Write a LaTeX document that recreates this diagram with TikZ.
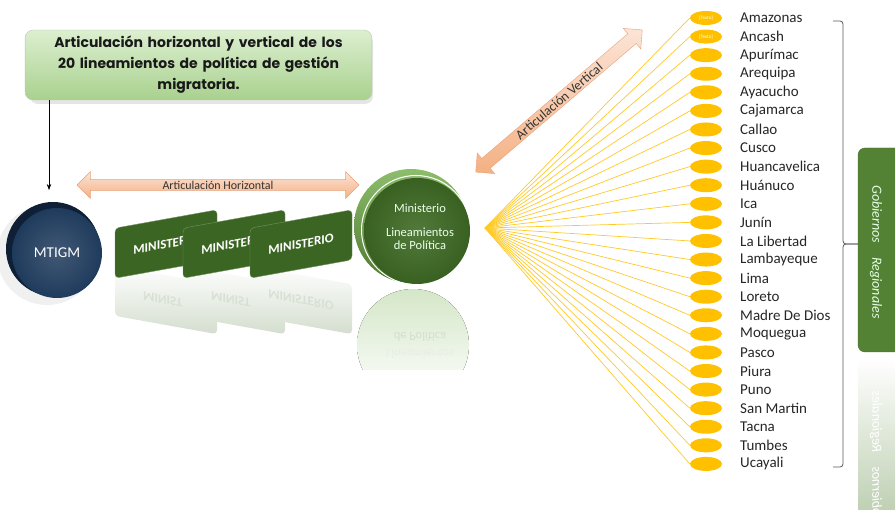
\documentclass[tikz,border=0pt]{standalone}
\usepackage{fontspec}
\setmainfont{Carlito}
\newfontfamily\titlefont{Poppins}
\usetikzlibrary{shapes.arrows,shapes.geometric,arrows.meta}
\definecolor{fanY}{HTML}{FFC000}
\definecolor{minG}{HTML}{3B6522}
\definecolor{diskG}{HTML}{3F6B25}
\definecolor{rimG}{HTML}{70AD47}
\definecolor{blueF}{HTML}{1F3B5C}
\definecolor{blueB}{HTML}{0F1F36}
\definecolor{gobG}{HTML}{548235}
\definecolor{arrTop}{HTML}{FCE4D6}
\definecolor{arrBot}{HTML}{F4B183}
\definecolor{arrLine}{HTML}{E8A07A}
\definecolor{titTop}{HTML}{DCEFD0}
\definecolor{titBot}{HTML}{A9D18E}
\begin{document}
\begin{tikzpicture}[x=1pt,y=-1pt]
\tikzset{
 oval/.style={ellipse, fill=fanY, minimum width=32, minimum height=14, inner sep=0},
 place/.style={anchor=west, font=\fontsize{15}{15}\selectfont, text=black!85, inner sep=0},
 fanline/.style={draw=fanY!85, line width=0.7pt},
 minbox/.style={rectangle, rounded corners=4, fill=minG, draw=minG!70!white, minimum width=102, minimum height=50, text=white, font=\fontsize{13}{13}\selectfont\bfseries, yslant=0.18},
 minrefl/.style={rectangle, rounded corners=4, top color=white, bottom color=minG!22, minimum width=102, minimum height=50, text=minG!20, font=\fontsize{13}{13}\selectfont\bfseries, yslant=0.18},
 darrow/.style={double arrow, double arrow head extend=8, top color=arrTop, bottom color=arrBot, draw=arrLine, inner xsep=2, inner ysep=1, text=black!80, font=\fontsize{12}{12}\selectfont},
 bracketline/.style={draw=black!65, line width=0.8pt, rounded corners=3},
 disktext/.style={text=green!8!white, font=\fontsize{12.5}{12.5}\selectfont},
 gobtext/.style={font=\fontsize{14}{14}\selectfont\itshape},
}
\useasboundingbox (0,0) rectangle (895,510);

% title box
\fill[black!10, rounded corners=8] (30,34) rectangle (373,104);
\node[rectangle, rounded corners=8, top color=titTop, bottom color=titBot, draw=titBot!80!black!60,
  minimum width=343, minimum height=70, text width=340, align=center,
  font=\titlefont\bfseries\fontsize{14}{21}\selectfont, text=black!90] (title) at (198.5,65)
  {Articulación horizontal y vertical de los\\20 lineamientos de política de gestión\\migratoria.};

% MTIGM disk
\fill[black!6] (47,255) circle (50);
\node[circle, fill=blueB, minimum size=94, inner sep=0] (mtigmback) at (53,249) {};
\node[circle, inner sep=0, minimum size=90, inner color=blueF!85!white, outer color=blueF, text=white,
  font=\fontsize{15}{15}\selectfont] (mtigm) at (57,253) {MTIGM};
\coordinate (arrEnd) at (49,190);
\draw[-{Stealth[length=6pt]}, line width=0.6pt] (title.south -| arrEnd) -- (arrEnd);

% horizontal arrow
\node[darrow, minimum height=282] (harr) at (218,185) {Articulación Horizontal};

% ministerio reflections
\begin{scope}[shift={(0,544)}, yscale=-1, transform shape]
\node[minrefl] (r1) at (166,244) {MINISTE};
\node[minrefl] (r2) at (234,244) {MINISTE};
\node[minrefl] (r3) at (301,244) {MINISTERIO};
\end{scope}

% ministerio boxes
\node[minbox] (m1) at (166,244) {MINISTERIO};
\node[minbox] (m2) at (234,244) {MINISTERIO};
\node[minbox] (m3) at (301,244) {MINISTERIO};

% ministerio disk reflection
\begin{scope}
\clip (340,290) rectangle (480,370);
\fill[top color=rimG!30, bottom color=white] (413,345) circle (56);
\end{scope}
\begin{scope}[shift={(0,584)}, yscale=-1, transform shape]
\node[text=diskG!22, font=\fontsize{12.5}{12.5}\selectfont] (rd1) at (420,247) {de Política};
\node[text=diskG!12, font=\fontsize{12.5}{12.5}\selectfont] (rd2) at (420,230) {Lineamientos};
\end{scope}

% ministerio disk
\node[circle, minimum size=114, inner sep=0, top color=rimG!80!white, bottom color=rimG!70!black] (diskback) at (411,226) {};
\draw[white, line width=1pt] (416,230) circle (54.5);
\node[circle, minimum size=106, inner sep=0, inner color=diskG!90!white, outer color=diskG!90!black] (disk) at (417,231) {};
\node[disktext] (dt1) at (420,208) {Ministerio};
\node[disktext, align=center, inner sep=0] (dt2) at (420,238.5) {Lineamientos\\[1pt]de Política};

% vertical arrow
\node[darrow, rotate=40.5, minimum height=219, double arrow head extend=7, inner ysep=1.5,
  font=\fontsize{13.5}{13.5}\selectfont] (varr) at (559,101) {Articulación Vertical};

% fan and list
\coordinate (apex) at (485,228);
\foreach \n [count=\i from 0] in {Amazonas,Ancash,Apurímac,Arequipa,Ayacucho,Cajamarca,Callao,Cusco,Huancavelica,Huánuco,Ica,Junín,La Libertad,Lambayeque,Lima,Loreto,Madre De Dios,Moquegua,Pasco,Piura,Puno,San Martin,Tacna,Tumbes,Ucayali}{
  \pgfmathsetmacro\yy{18+18.58*\i}
  \node[oval] (e\i) at (706,\yy) {};
  \draw[fanline] (apex) -- (e\i.west);
  \node[place] (n\i) at (740,\yy) {\n};
}
\node[text=white, font=\fontsize{5}{5}\selectfont, inner sep=0] (t0) at (e0) {[Texto]};
\node[text=white, font=\fontsize{5}{5}\selectfont, inner sep=0] (t1) at (e1) {[Texto]};

% Gobiernos Regionales box + reflection
\begin{scope}[shift={(0,710)}, yscale=-1, transform shape]
\node[rectangle, rounded corners=7, top color=white, bottom color=gobG!50, minimum width=46, minimum height=204, inner sep=0] (gobr) at (881,250) {};
\node[rotate=-90, gobtext, text=white] (gobrt) at (876,252) {Gobiernos\quad Regionales};
\end{scope}
\node[rectangle, rounded corners=7, fill=gobG, draw=gobG!80!black, minimum width=46, minimum height=204, inner sep=0] (gob) at (881,250) {};
\node[rotate=-90, gobtext, text=green!10!white] (gobt) at (876,252) {Gobiernos\quad Regionales};

% bracket
\coordinate (bt) at (833,21);
\coordinate (bb) at (833,467);
\draw[bracketline] (bt) -- (843,21) -- (843,244) -- (gob.west |- 0,244);
\draw[bracketline] (gob.west |- 0,244) -- (843,244) -- (843,467) -- (bb);
\end{tikzpicture}
\end{document}
